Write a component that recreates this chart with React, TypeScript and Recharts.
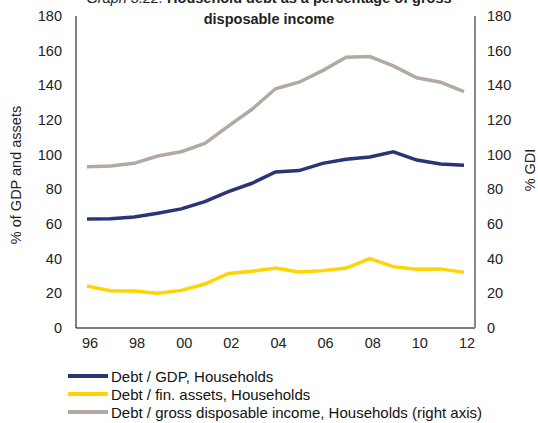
import React from "react";
import { LineChart, Line, XAxis, YAxis } from "recharts";

const years = ["96","97","98","99","00","01","02","03","04","05","06","07","08","09","10","11","12"];
const debtGdp = [62.9, 63.1, 64, 66.2, 68.7, 72.9, 78.7, 83.5, 90, 90.8, 95, 97.3, 98.7, 101.6, 96.9, 94.6, 93.9];
const debtFinAssets = [24.2, 21.5, 21.3, 20, 21.7, 25.4, 31.5, 32.7, 34.6, 32.3, 33.1, 34.6, 40, 35.4, 33.9, 34.1, 32.1];
const debtGdi = [93.1, 93.5, 95, 99.2, 101.7, 106.5, 116.5, 126.2, 138, 141.8, 148.5, 156.2, 156.6, 151.2, 144.4, 141.8, 136.4];
const yTicks = [0, 20, 40, 60, 80, 100, 120, 140, 160, 180];
const seriesNames = [
  "Debt / GDP, Households",
  "Debt / fin. assets, Households",
  "Debt / gross disposable income, Households (right axis)",
];
const colors = ["#2B3475", "#FFD400", "#B3A9A2"];

const data = years.map((y, i) => ({
  year: y,
  gdp: debtGdp[i],
  fin: debtFinAssets[i],
  gdi: debtGdi[i],
}));

const font = "'Liberation Sans', Arial, sans-serif";

export default function App() {
  return (
    <div style={{ position: "absolute", left: 0, top: 0, width: 538, height: 423, fontFamily: font, background: "#fff", overflow: "hidden" }}>
      <LineChart width={538} height={423} data={data} margin={{ top: 16, right: 13, bottom: 65, left: 26 }}>
        <XAxis
          dataKey="year"
          interval={1}
          tickLine={false}
          axisLine={{ stroke: "#000", strokeWidth: 1 }}
          tick={{ fill: "#222", fontSize: 14.5, fontFamily: font, dx: 3 }}
          tickMargin={4}
          padding={{ left: 11, right: 11 }}
          height={30}
        />
        <YAxis
          yAxisId="left"
          domain={[0, 180]}
          ticks={yTicks}
          interval={0}
          tickLine={false}
          axisLine={{ stroke: "#000", strokeWidth: 1 }}
          tick={{ fill: "#222", fontSize: 14.5, fontFamily: font }}
          tickMargin={8}
          width={50}
        />
        <YAxis
          yAxisId="right"
          orientation="right"
          domain={[0, 180]}
          ticks={yTicks}
          interval={0}
          tickLine={false}
          axisLine={{ stroke: "#888", strokeWidth: 2 }}
          tick={{ fill: "#222", fontSize: 14.5, fontFamily: font, textAnchor: "start" }}
          tickMargin={6}
          width={50}
        />
        <Line yAxisId="left" dataKey="gdp" stroke={colors[0]} strokeWidth={3.5} dot={false} isAnimationActive={false} />
        <Line yAxisId="left" dataKey="fin" stroke={colors[1]} strokeWidth={3.5} dot={false} isAnimationActive={false} />
        <Line yAxisId="right" dataKey="gdi" stroke={colors[2]} strokeWidth={3.5} dot={false} isAnimationActive={false} />
      </LineChart>

      <div style={{ position: "absolute", left: 0, width: 538, top: -12, textAlign: "center", fontSize: 14.5, lineHeight: "21px", color: "#222" }}>
        <span style={{ fontStyle: "italic" }}>Graph 3.22: </span>
        <span style={{ fontWeight: "bold" }}>Household debt as a percentage of gross</span>
        <br />
        <span style={{ fontWeight: "bold" }}>disposable income</span>
      </div>

      <div style={{ position: "absolute", left: 16, top: 175, transform: "translate(-50%, -50%) rotate(-90deg)", whiteSpace: "nowrap", fontSize: 14.5, color: "#222" }}>
        % of GDP and assets
      </div>
      <div style={{ position: "absolute", left: 530, top: 170, transform: "translate(-50%, -50%) rotate(-90deg)", whiteSpace: "nowrap", fontSize: 14.5, color: "#222" }}>
        % GDI
      </div>

      <div style={{ position: "absolute", left: 68, top: 367 }}>
        {seriesNames.map((name, i) => (
          <div key={name} style={{ display: "flex", alignItems: "center", height: 18, fontSize: 15, color: "#111" }}>
            <div style={{ width: 40, height: 3.5, background: colors[i], marginRight: 3 }} />
            <span>{name}</span>
          </div>
        ))}
      </div>
    </div>
  );
}
